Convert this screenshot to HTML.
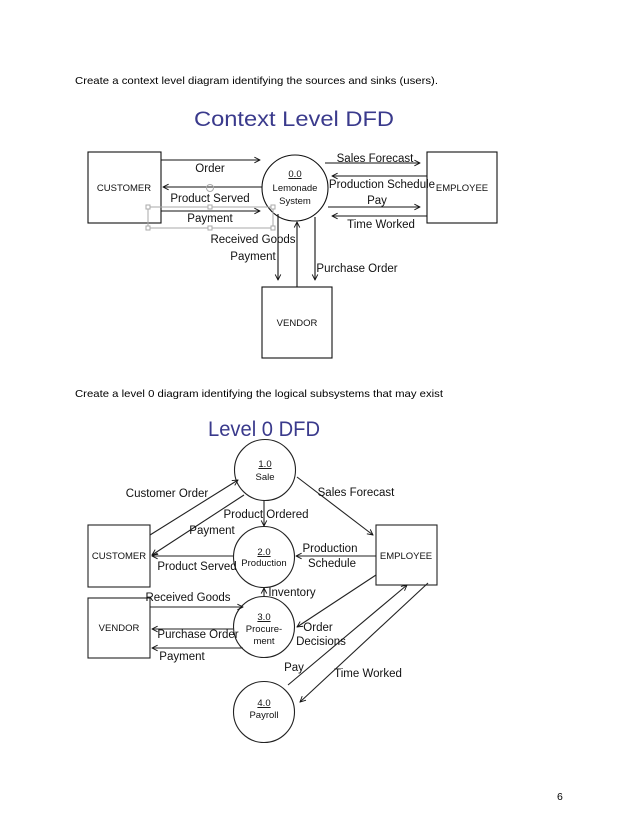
<!DOCTYPE html>
<html><head><meta charset="utf-8"><style>
html,body{margin:0;padding:0;background:#fff;}
svg{display:block;}
text{font-family:"Liberation Sans",Arial,sans-serif;fill:#111;}
.t{font-size:11.5px;}
.s{font-size:9.5px;}
.ttl{font-size:21px;fill:#3a3a8c;}
.p{font-size:10.5px;fill:#000;}
</style></head><body>
<svg width="638" height="826" viewBox="0 0 638 826" xmlns="http://www.w3.org/2000/svg">
<defs>
<marker id="a" viewBox="0 0 10 10" refX="9" refY="5" markerWidth="7" markerHeight="7" orient="auto-start-reverse" markerUnits="userSpaceOnUse">
<path d="M1,1 L9,5 L1,9" fill="none" stroke="#111" stroke-width="1.3"/>
</marker>
</defs>
<g stroke="#111" stroke-width="1" fill="none">
</g>
<text class="p" x="75" y="84" textLength="363" lengthAdjust="spacingAndGlyphs">Create a context level diagram identifying the sources and sinks (users).</text>

<!-- Context DFD -->
<text class="ttl" x="294" y="126" text-anchor="middle" textLength="200" lengthAdjust="spacingAndGlyphs">Context Level DFD</text>
<g stroke="#111" stroke-width="1.1" fill="none">
<rect x="88" y="152" width="73" height="71"/>
<rect x="427" y="152" width="70" height="71"/>
<rect x="262" y="287" width="70" height="71"/>
<circle cx="295" cy="188" r="33"/>
<line x1="161" y1="160" x2="260" y2="160" marker-end="url(#a)"/>
<line x1="262" y1="187" x2="163" y2="187" marker-end="url(#a)"/>
<line x1="161" y1="211" x2="260" y2="211" marker-end="url(#a)"/>
<line x1="325" y1="163" x2="420" y2="163" marker-end="url(#a)"/>
<line x1="427" y1="176" x2="332" y2="176" marker-end="url(#a)"/>
<line x1="328" y1="207" x2="420" y2="207" marker-end="url(#a)"/>
<line x1="427" y1="216" x2="332" y2="216" marker-end="url(#a)"/>
<line x1="278" y1="214" x2="278" y2="280" marker-end="url(#a)"/>
<line x1="297" y1="287" x2="297" y2="222" marker-end="url(#a)"/>
<line x1="315" y1="217" x2="315" y2="280" marker-end="url(#a)"/>
</g>
<g stroke="#aaa" stroke-width="1" fill="#fff">
<rect x="148" y="207" width="125" height="21" fill="none"/>
<rect x="146" y="205" width="4" height="4"/><rect x="208" y="205" width="4" height="4"/><rect x="271" y="205" width="4" height="4"/>
<rect x="146" y="226" width="4" height="4"/><rect x="208" y="226" width="4" height="4"/><rect x="271" y="226" width="4" height="4"/>
<circle cx="210" cy="188" r="3.5" fill="none"/>
</g>
<text class="s" x="124" y="191" text-anchor="middle">CUSTOMER</text>
<text class="s" x="462" y="191" text-anchor="middle">EMPLOYEE</text>
<text class="s" x="297" y="326" text-anchor="middle">VENDOR</text>
<text class="s" x="295" y="177" text-anchor="middle" text-decoration="underline">0.0</text>
<text class="s" x="295" y="191" text-anchor="middle">Lemonade</text>
<text class="s" x="295" y="204" text-anchor="middle">System</text>
<text class="t" x="210" y="172" text-anchor="middle">Order</text>
<text class="t" x="210" y="202" text-anchor="middle">Product Served</text>
<text class="t" x="210" y="222" text-anchor="middle">Payment</text>
<text class="t" x="375" y="162" text-anchor="middle">Sales Forecast</text>
<text class="t" x="382" y="188" text-anchor="middle">Production Schedule</text>
<text class="t" x="377" y="204" text-anchor="middle">Pay</text>
<text class="t" x="381" y="228" text-anchor="middle">Time Worked</text>
<text class="t" x="253" y="243" text-anchor="middle">Received Goods</text>
<text class="t" x="253" y="260" text-anchor="middle">Payment</text>
<text class="t" x="357" y="272" text-anchor="middle">Purchase Order</text>

<text class="p" x="75" y="397" textLength="368" lengthAdjust="spacingAndGlyphs">Create a level 0 diagram identifying the logical subsystems that may exist</text>

<!-- Level 0 -->
<text class="ttl" x="264" y="436" text-anchor="middle" textLength="112" lengthAdjust="spacingAndGlyphs">Level 0 DFD</text>
<g stroke="#222" stroke-width="1.1" fill="none">
<rect x="88" y="525" width="62" height="62"/>
<rect x="376" y="525" width="61" height="60"/>
<rect x="88" y="598" width="62" height="60"/>
<circle cx="265" cy="470" r="30.5"/>
<circle cx="264" cy="557" r="30.5"/>
<circle cx="264" cy="627" r="30.5"/>
<circle cx="264" cy="712" r="30.5"/>
<line x1="150" y1="535" x2="238" y2="480" marker-end="url(#a)"/>
<line x1="244" y1="495" x2="152" y2="555" marker-end="url(#a)"/>
<line x1="264" y1="500" x2="264" y2="526" marker-end="url(#a)"/>
<line x1="297" y1="477" x2="373" y2="535" marker-end="url(#a)"/>
<line x1="233" y1="556" x2="152" y2="556" marker-end="url(#a)"/>
<line x1="376" y1="556" x2="296" y2="556" marker-end="url(#a)"/>
<line x1="264" y1="597" x2="264" y2="588" marker-end="url(#a)"/>
<line x1="150" y1="607" x2="243" y2="607" marker-end="url(#a)"/>
<line x1="233" y1="629" x2="152" y2="629" marker-end="url(#a)"/>
<line x1="243" y1="648" x2="152" y2="648" marker-end="url(#a)"/>
<line x1="376" y1="575" x2="297" y2="627" marker-end="url(#a)"/>
<line x1="288" y1="685" x2="407" y2="585" marker-end="url(#a)"/>
<line x1="428" y1="583" x2="300" y2="702" marker-end="url(#a)"/>
</g>
<text class="s" x="119" y="559" text-anchor="middle">CUSTOMER</text>
<text class="s" x="406" y="559" text-anchor="middle">EMPLOYEE</text>
<text class="s" x="119" y="631" text-anchor="middle">VENDOR</text>
<text class="s" x="265" y="467" text-anchor="middle" text-decoration="underline">1.0</text>
<text class="s" x="265" y="480" text-anchor="middle">Sale</text>
<text class="s" x="264" y="555" text-anchor="middle" text-decoration="underline">2.0</text>
<text class="s" x="264" y="566" text-anchor="middle">Production</text>
<text class="s" x="264" y="620" text-anchor="middle" text-decoration="underline">3.0</text>
<text class="s" x="264" y="632" text-anchor="middle">Procure-</text>
<text class="s" x="264" y="644" text-anchor="middle">ment</text>
<text class="s" x="264" y="706" text-anchor="middle" text-decoration="underline">4.0</text>
<text class="s" x="264" y="718" text-anchor="middle">Payroll</text>
<text class="t" x="167" y="497" text-anchor="middle">Customer Order</text>
<text class="t" x="212" y="534" text-anchor="middle">Payment</text>
<text class="t" x="266" y="518" text-anchor="middle">Product Ordered</text>
<text class="t" x="356" y="496" text-anchor="middle">Sales Forecast</text>
<text class="t" x="197" y="570" text-anchor="middle">Product Served</text>
<text class="t" x="330" y="552" text-anchor="middle">Production</text>
<text class="t" x="332" y="567" text-anchor="middle">Schedule</text>
<text class="t" x="292" y="596" text-anchor="middle">Inventory</text>
<text class="t" x="188" y="601" text-anchor="middle">Received Goods</text>
<text class="t" x="198" y="638" text-anchor="middle">Purchase Order</text>
<text class="t" x="182" y="660" text-anchor="middle">Payment</text>
<text class="t" x="318" y="631" text-anchor="middle">Order</text>
<text class="t" x="321" y="645" text-anchor="middle">Decisions</text>
<text class="t" x="294" y="671" text-anchor="middle">Pay</text>
<text class="t" x="368" y="677" text-anchor="middle">Time Worked</text>

<text class="p" x="557" y="800">6</text>
</svg>
</body></html>
